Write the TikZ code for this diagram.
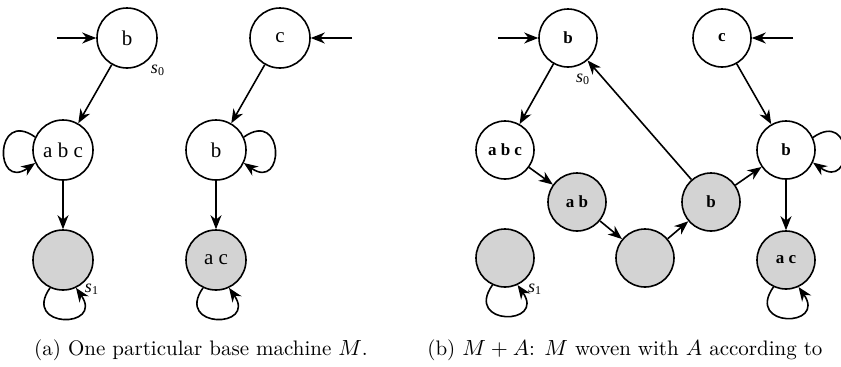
\documentclass[tikz,border=0pt]{standalone}
\usepackage{fontspec}
\newfontfamily\labelfont{Liberation Serif}
\usetikzlibrary{arrows.meta}
\definecolor{stategray}{RGB}{211,211,211}
\tikzset{
  state/.style={circle, draw, line width=0.8pt, minimum size=30pt, inner sep=0pt,
                font=\labelfont\fontsize{10.5}{12}\selectfont},
  smallstate/.style={state, minimum size=29pt, font=\labelfont\bfseries\fontsize{8.5}{10}\selectfont},
  marked/.style={fill=stategray},
  edge/.style={line width=0.8pt, -{Stealth[length=7pt,width=5.5pt,inset=2.2pt]}},
  tag/.style={font=\labelfont\itshape\fontsize{9}{10}\selectfont, inner sep=0pt},
  caption/.style={font=\fontsize{10.5}{12}\selectfont, inner sep=0pt}
}
\newcommand{\sname}[1]{s\textsubscript{\upshape#1}}
\begin{document}
\begin{tikzpicture}[x=0.5pt, y=0.5pt]
\useasboundingbox[clip] (0,0) rectangle (841,366);

% (a) base machine
\node[state] (a-b) at (127,328) {b};
\node[state] (a-c) at (280,328) {c};
\node[state] (a-abc) at (63,216) {a b c};
\node[state] (a-bm) at (216,216) {b};
\node[state, marked] (a-s1) at (63,106) {};
\node[state, marked] (a-ac) at (216,106) {a c};
\coordinate (a-in1) at (57,328);
\coordinate (a-in2) at (352,328);
\node[tag] at (158,296) {\sname{0}};
\node[tag] at (92,77) {\sname{1}};

\draw[edge] (a-in1) -- (a-b);
\draw[edge] (a-in2) -- (a-c);
\draw[edge] (a-b) -- (a-abc);
\draw[edge] (a-c) -- (a-bm);
\draw[edge] (a-abc) -- (a-s1);
\draw[edge] (a-bm) -- (a-ac);
\draw[edge] (a-abc.155) .. controls +(145:50) and +(215:50) .. (a-abc.205);
\draw[edge] (a-bm.25) .. controls +(35:50) and +(-35:50) .. (a-bm.-25);
\draw[edge] (a-s1.245) .. controls +(235:50) and +(305:50) .. (a-s1.295);
\draw[edge] (a-ac.245) .. controls +(235:50) and +(305:50) .. (a-ac.295);

\node[caption] at (201,16) {(a) One particular base machine $M$.};

% (b) woven machine
\node[smallstate] (b-b) at (568,328) {b};
\node[smallstate] (b-c) at (722,328) {c};
\node[smallstate] (b-abc) at (505,216) {a b c};
\node[smallstate, marked] (b-ab) at (577,164) {a b};
\node[smallstate, marked] (b-e) at (645,108) {};
\node[smallstate, marked] (b-bg) at (711,164) {b};
\node[smallstate] (b-bw) at (786,216) {b};
\node[smallstate, marked] (b-ac) at (786,106) {a c};
\node[smallstate, marked] (b-s1) at (505,108) {};
\coordinate (b-in1) at (498,328);
\coordinate (b-in2) at (793,328);
\node[tag] at (583,287) {\sname{0}};
\node[tag] at (535,77) {\sname{1}};

\draw[edge] (b-in1) -- (b-b);
\draw[edge] (b-in2) -- (b-c);
\draw[edge] (b-b) -- (b-abc);
\draw[edge] (b-abc) -- (b-ab);
\draw[edge] (b-ab) -- (b-e);
\draw[edge] (b-e) -- (b-bg);
\draw[edge] (b-bg) -- (b-b);
\draw[edge] (b-bg) -- (b-bw);
\draw[edge] (b-c) -- (b-bw);
\draw[edge] (b-bw) -- (b-ac);
\draw[edge] (b-bw.25) .. controls +(35:50) and +(-35:50) .. (b-bw.-25);
\draw[edge] (b-s1.245) .. controls +(235:50) and +(305:50) .. (b-s1.295);
\draw[edge] (b-ac.245) .. controls +(235:50) and +(305:50) .. (b-ac.295);

\node[caption, anchor=west] at (427,16) {(b) $M+A$: $M$ woven with $A$ according to};
\end{tikzpicture}
\end{document}
